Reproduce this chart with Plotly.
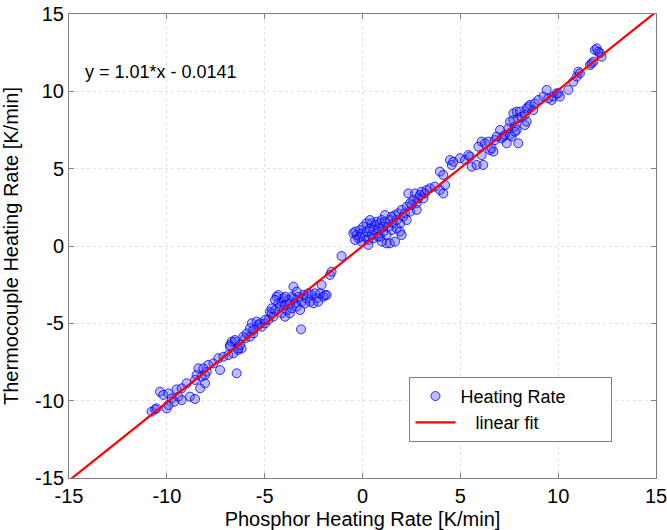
import numpy as np
import plotly.graph_objects as go

# Phosphor heating rate (x) and thermocouple heating rate (y), K/min
phosphor_rate = [
    -10.78, -10.60, -10.52, -10.35, -10.18, -10.01, -9.92, -9.92, -9.75, -9.62,
    -9.50, -9.41, -9.24, -9.24, -8.99, -8.82, -8.56, -8.56, -8.48, -8.30,
    -8.22, -8.05, -7.96, -7.88, -7.62, -7.37, -7.28, -7.11, -6.86, -6.77,
    -6.60, -6.52, -6.43, -6.35, -6.18, -6.00, -5.75, -5.58, -8.39, -8.13, -8.05,
    -6.69, -6.52, -6.77, -6.35, -6.26, -6.09, -5.92, -5.75, -5.66, -5.58,
    -5.41, -5.32, -5.24, -5.15, -4.98, -4.81, -4.73, -4.64, -4.56, -4.47,
    -4.39, -4.30, -4.22, -4.13, -4.13, -4.05, -3.96, -3.96, -3.88, -3.79,
    -3.71, -3.71, -3.62, -3.53, -3.53, -3.45, -3.36, -3.28, -3.19, -3.11,
    -3.02, -2.94, -2.85, -2.77, -2.68, -2.60, -2.51, -2.43, -2.34, -2.26,
    -2.17, -2.09, -2.00, -1.92, -1.83, -1.66, -1.58, -3.14, -4.30, -4.47,
    -4.64, -4.98, -3.62, -3.36, -3.96,
    -1.07, -0.47, -0.38, -0.30, -0.21, -0.13, -0.04, -0.04, 0.04, 0.13,
    0.21, 0.21, 0.30, 0.30, 0.38, 0.47, 0.47, 0.55, 0.55, 0.64,
    0.72, 0.72, 0.81, 0.89, 0.89, 0.98, 1.06, 1.06, 1.15, 1.23,
    1.23, 1.32, 1.40, 1.40, 1.49, 1.58, 1.66, 1.75, 1.75, 1.83,
    1.92, 1.92, 2.00, 2.09, 2.17, 2.26, 2.34, 2.43, 2.51, 2.60,
    2.68, 2.77, 2.85, 2.94, 3.02, 3.11, 3.19, 3.28, 3.45, 3.70,
    3.96, 4.13, 4.22, 2.00, 1.66, 0.81, 1.15, 1.49, 0.38, -0.13,
    -0.38, 0.98, 2.26, 2.43, 2.77,
    3.96, 4.13, 4.47, 4.56, 4.64, 4.98, 5.24, 5.41, 5.49, 5.58,
    5.83, 5.92, 6.09, 6.17, 6.09, 6.26, 6.43, 6.52, 6.60, 6.69,
    6.77, 7.03, 7.11, 7.20, 7.28, 7.37, 7.45, 7.54, 7.54, 7.62,
    7.71, 7.79, 7.88, 7.88, 7.96, 7.96, 8.05, 8.13, 8.30, 8.30,
    8.39, 8.39, 8.47, 8.56, 8.73, 8.81, 8.99, 9.24, 9.41, 9.50,
    9.67, 9.75, 9.92, 10.01, 10.09, 10.52, 10.77, 10.95, 11.03, 11.11,
    11.63, 11.71, 11.80, 11.88, 11.97, 12.05, 12.14, 12.22, 6.86, 7.71, 7.79,
]
thermocouple_rate = [
    -10.71, -10.56, -10.50, -9.42, -9.63, -10.50, -9.53, -10.28, -9.85, -10.07,
    -9.27, -9.74, -9.96, -9.20, -8.88, -9.74, -9.89, -8.66, -8.34, -9.20,
    -8.45, -8.88, -8.13, -7.69, -7.59, -7.26, -8.02, -7.16, -7.05, -6.40,
    -6.94, -6.19, -8.23, -6.72, -6.62, -5.97, -5.86, -5.65, -7.91, -7.91, -8.34,
    -6.19, -6.08, -6.51, -6.62, -6.40, -5.86, -5.65, -5.32, -5.00, -5.43,
    -4.89, -5.11, -5.00, -5.22, -5.00, -4.78, -4.25, -4.35, -4.57, -4.14,
    -3.28, -3.71, -3.92, -3.60, -4.35, -3.38, -3.81, -4.57, -4.14, -3.49,
    -3.71, -4.35, -4.03, -2.63, -3.38, -3.71, -3.92, -3.28, -4.14, -3.60,
    -3.17, -3.71, -3.38, -3.06, -3.60, -3.17, -3.71, -3.06, -3.38, -3.60,
    -3.06, -2.52, -3.28, -3.17, -3.17, -1.87, -1.66, -5.39, -3.17, -3.49,
    -4.03, -4.78, -3.28, -2.95, -3.28,
    -0.65, 0.82, 0.93, 0.71, 0.50, 1.03, 0.82, 0.28, 1.25, 0.60,
    1.47, 0.93, 0.39, 0.07, 1.14, 0.71, 1.47, 0.50, 1.03, 1.36,
    0.82, 1.57, 1.14, 0.60, 1.47, 1.68, 0.93, 1.25, 1.57, 0.71,
    0.17, 1.25, 1.68, 0.17, 1.03, 1.47, 2.00, 1.68, 1.14, 2.11,
    0.93, 1.47, 2.33, 1.90, 2.11, 2.54, 3.40, 2.22, 2.65, 2.97,
    3.40, 2.76, 3.08, 3.30, 3.51, 3.08, 3.40, 3.62, 3.73, 3.84,
    3.62, 3.40, 3.94, 0.71, 0.28, 0.60, 2.00, 1.90, 1.68, 0.60,
    0.39, 0.28, 1.68, 2.76, 2.33,
    4.81, 4.59, 5.56, 5.24, 5.45, 5.67, 5.56, 5.88, 5.78, 5.13,
    5.24, 6.42, 6.75, 5.24, 5.88, 6.64, 6.75, 6.21, 6.32, 6.10,
    6.85, 7.50, 6.96, 7.07, 7.18, 6.64, 7.61, 7.18, 8.04, 7.07,
    8.58, 7.72, 7.50, 8.69, 6.64, 8.26, 8.69, 8.36, 8.47, 7.82,
    8.04, 8.90, 9.01, 9.12, 8.79, 9.22, 9.44, 9.66, 10.09, 9.55,
    9.44, 9.66, 9.87, 9.87, 9.66, 10.09, 10.62, 10.95, 11.27, 11.16,
    11.70, 11.81, 11.92, 12.67, 12.78, 12.56, 12.46, 12.24, 7.07, 8.15, 7.39,
]

fit_slope = 1.01
fit_intercept = -0.0141
fit_x = np.array([-15.0, 15.0])
fit_y = fit_slope * fit_x + fit_intercept

axis_ticks = [-15, -10, -5, 0, 5, 10, 15]
fit_label = "y = 1.01*x - 0.0141"
legend_names = ["Heating Rate", "linear fit"]

NBSP = "&nbsp;"

fig = go.Figure()
fig.add_trace(go.Scatter(
    x=phosphor_rate, y=thermocouple_rate, mode="markers",
    name=legend_names[0] + NBSP * 8,
    marker=dict(size=9, color="rgba(70,70,255,0.35)",
                line=dict(color="rgba(0,0,255,0.8)", width=1)),
))
fig.add_trace(go.Scatter(
    x=fit_x, y=fit_y, mode="lines",
    name=NBSP * 3 + legend_names[1],
    line=dict(color="#ff0000", width=2.2),
))

axis_common = dict(
    range=[-15, 15], tickvals=axis_ticks, ticktext=[str(t) for t in axis_ticks],
    showline=True, linecolor="#808080", linewidth=1, mirror="ticks",
    ticks="inside", ticklen=5, tickcolor="#808080",
    showgrid=True, gridcolor="#e2e2e2", griddash="dot", gridwidth=1,
    zeroline=False, tickfont=dict(size=20, color="#000"), automargin=False,
    ticklabeloverflow="allow",
)
fig.update_xaxes(**axis_common, title=dict(text="Phosphor Heating Rate [K/min]",
                                           font=dict(size=20, color="#000")))
fig.update_yaxes(**axis_common, title=dict(text="Thermocouple Heating Rate [K/min]",
                                           font=dict(size=20, color="#000")))

fig.add_annotation(x=-14.28, y=11.25, text=fit_label, showarrow=False,
                   xanchor="left", yanchor="middle",
                   font=dict(size=18, color="#000"))

fig.update_layout(
    width=667, height=530,
    margin=dict(l=69, r=11, t=14, b=52),
    plot_bgcolor="white", paper_bgcolor="white",
    font=dict(family="Liberation Sans, Arial, sans-serif", color="#000"),
    legend=dict(x=0.58, y=0.218, xanchor="left", yanchor="top",
                bgcolor="white", bordercolor="#808080", borderwidth=1,
                font=dict(size=18, color="#000"),
                tracegroupgap=0, itemwidth=40),
    showlegend=True,
)

# remove the page's default body margin so the figure fills the window exactly
fig.write_html("out.html",
               config={"displayModeBar": False},
               post_script="document.body.style.margin='0';document.body.style.overflow='hidden';")
